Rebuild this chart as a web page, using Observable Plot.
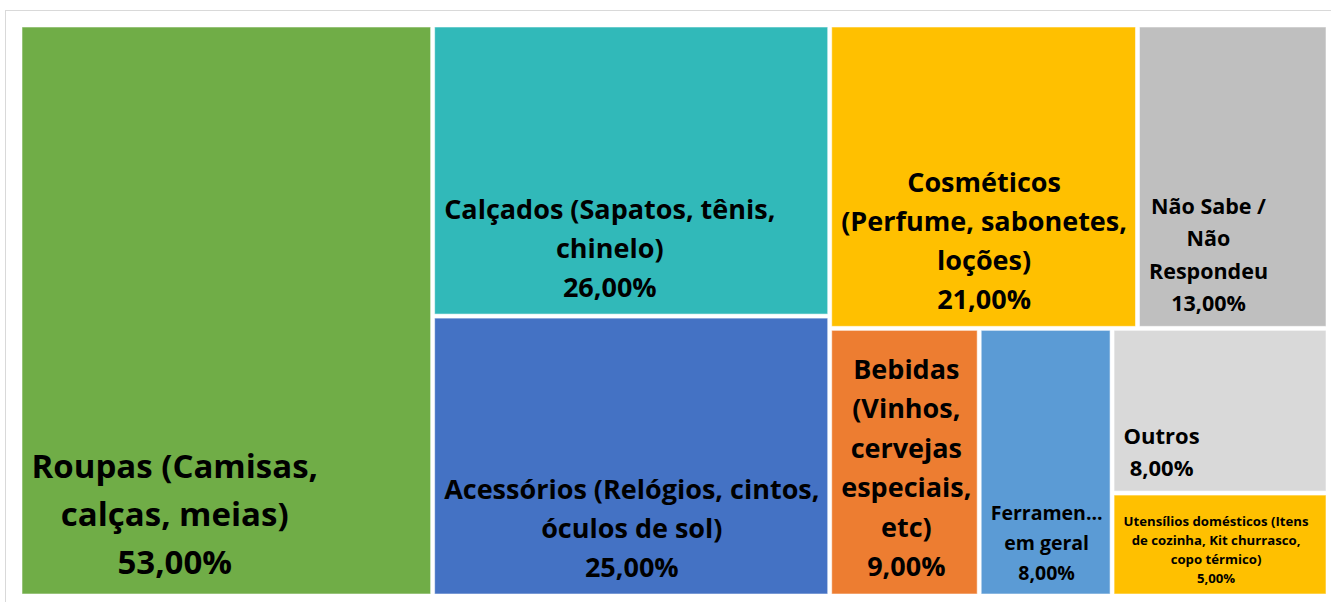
<!DOCTYPE html>
<html>
<head>
<meta charset="utf-8">
<script src="https://cdn.jsdelivr.net/npm/d3@7"></script>
<script src="https://cdn.jsdelivr.net/npm/@observablehq/plot@0.6"></script>
<style>
  html, body { margin: 0; padding: 0; background: #fff; }
  #chart svg { display: block; }
</style>
</head>
<body>
<div id="chart"></div>
<script>
// ---- data ----
const categories = [
  "Roupas (Camisas,\ncalças, meias)",
  "Calçados (Sapatos, tênis,\nchinelo)",
  "Acessórios (Relógios, cintos,\nóculos de sol)",
  "Cosméticos\n(Perfume, sabonetes,\nloções)",
  "Não Sabe /\nNão\nRespondeu",
  "Bebidas\n(Vinhos,\ncervejas\nespeciais,\netc)",
  "Ferramen...\nem geral",
  "Outros",
  "Utensílios domésticos (Itens\nde cozinha, Kit churrasco,\ncopo térmico)"
];
const values = [53, 26, 25, 21, 13, 9, 8, 8, 5];
// grouping of the treemap (nesting only)
const groups = ["", "/g2", "/g2", "/g3/topo", "/g3/topo", "/g3/base", "/g3/base", "/g3/base/outros", "/g3/base/outros"];

// ---- styles ----
const fills = ["#70AD47", "#31B9B9", "#4472C4", "#FFC000", "#BFBFBF", "#ED7D31", "#5B9BD5", "#D9D9D9", "#FFC000"];
const labelSize = [33, 27, 27, 27, 21.5, 27, 19.5, 22, 13.2];
const labelLead = [48, 39, 39, 39, 32.5, 39.5, 30, 32, 19];

const W = 1331, H = 602;
const mL = 22, mR = 5, mT = 27, mB = 8;
const innerW = W - mL - mR, innerH = H - mT - mB;

const rows = categories.map((c, i) => ({i, category: c, value: values[i], path: groups[i] + "/" + i}));
const root = d3.stratify().path(d => d.path)(rows)
  .sum(d => d ? d.value : 0);
d3.treemap()
  .tile(d3.treemapSliceDice)
  .size([innerW, innerH])
  .paddingInner(4)
  .round(false)(root);

const leaves = root.leaves().map(n => ({...n.data, x0: n.x0, x1: n.x1, y0: n.y0, y1: n.y1}));

const ctx = document.createElement("canvas").getContext("2d");
const font = "Open Sans";
function measure(t, s) { ctx.font = `bold ${s}px "${font}"`; return ctx.measureText(t).width; }

const lines = [];
for (const d of leaves) {
  const size = labelSize[d.i], lead = labelLead[d.i];
  const ls = d.category.split("\n").concat([d.value.toFixed(2).replace(".", ",") + "%"]);
  const maxW = d3.max(ls, t => measure(t, size));
  const cx = d.x0 + 9 + maxW / 2;
  const last = d.y1 - (0.33 * lead + 5);
  ls.forEach((t, k) => lines.push({text: t, x: cx, y: last - (ls.length - 1 - k) * lead, size}));
}

const chart = Plot.plot({
  width: W, height: H,
  marginLeft: mL, marginRight: mR, marginTop: mT, marginBottom: mB,
  x: {domain: [0, innerW], axis: null},
  y: {domain: [0, innerH], axis: null, reverse: true},
  style: {fontFamily: `"${font}"`, background: "#fff"},
  marks: [
    Plot.frame({stroke: "#d9d9d9", insetLeft: -17, insetTop: -17, insetRight: -20, insetBottom: -20}),
    Plot.rect(leaves, {x1: "x0", x2: "x1", y1: "y0", y2: "y1", fill: d => fills[d.i], stroke: "white", strokeOpacity: 0.55, strokeWidth: 1}),
    Plot.text(lines, {x: "x", y: "y", text: "text", fontSize: "size", fontWeight: "bold", fill: "#000", textAnchor: "middle", lineAnchor: "bottom"})
  ]
});
document.getElementById("chart").appendChild(chart);
</script>
</body>
</html>
